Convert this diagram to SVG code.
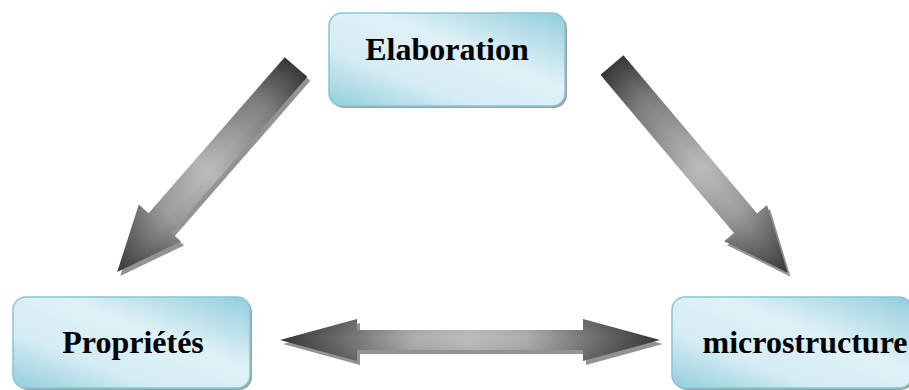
<svg xmlns="http://www.w3.org/2000/svg" width="909" height="390" viewBox="0 0 909 390">
  <defs>
    <linearGradient id="boxFill" x1="0" y1="1" x2="1" y2="0">
      <stop offset="0" stop-color="#92cddc"/>
      <stop offset="0.3" stop-color="#d4ecf3"/>
      <stop offset="0.6" stop-color="#dff1f6"/>
      <stop offset="1" stop-color="#92cddc"/>
    </linearGradient>
    <linearGradient id="arrowFill" x1="0" y1="0" x2="1" y2="0">
      <stop offset="0" stop-color="#2e2e2e"/>
      <stop offset="0.18" stop-color="#777"/>
      <stop offset="0.5" stop-color="#b8b8b8"/>
      <stop offset="0.72" stop-color="#979797"/>
      <stop offset="1" stop-color="#2a2a2a"/>
    </linearGradient>
    <linearGradient id="arrowFill2" x1="0" y1="0" x2="1" y2="0">
      <stop offset="0" stop-color="#2a2a2a"/>
      <stop offset="0.2" stop-color="#707070"/>
      <stop offset="0.35" stop-color="#a8a8a8"/>
      <stop offset="0.5" stop-color="#b8b8b8"/>
      <stop offset="0.65" stop-color="#a8a8a8"/>
      <stop offset="0.8" stop-color="#707070"/>
      <stop offset="1" stop-color="#2a2a2a"/>
    </linearGradient>
    <linearGradient id="sheen" x1="0" y1="0" x2="0" y2="1">
      <stop offset="0" stop-color="#000" stop-opacity="0.08"/>
      <stop offset="0.45" stop-color="#fff" stop-opacity="0.06"/>
      <stop offset="1" stop-color="#000" stop-opacity="0.12"/>
    </linearGradient>
    <!-- single-headed arrow, tail at x=0, tip at x=272 -->
    <path id="oneWay" d="M0,-15 L207,-15 L207,-28 L272,0 L207,28 L207,15 L0,15 Z"/>
    <!-- double-headed arrow, tips at x=0 and x=380 -->
    <path id="twoWay" d="M0,0 L77,-21 L77,-10 L303,-10 L303,-21 L380,0 L303,21 L303,10 L77,10 L77,21 Z"/>
  </defs>
  <style>
    .box { fill: url(#boxFill); stroke: #86c6d6; stroke-width: 1.5; }
    .boxShadow { fill: #a0a0a0; }
    .label { font-family: "Liberation Serif", "Times New Roman", serif; font-weight: bold; font-size: 32px; fill: #000; text-anchor: middle; }
    .shade { fill: #939393; }
    .body { fill: url(#arrowFill); }
    .body2 { fill: url(#arrowFill2); }
    .gloss { fill: url(#sheen); }
  </style>

  <g id="connectors">
    <!-- Elaboration -> Propriétés -->
    <g transform="translate(296,67) rotate(131.1)">
      <use href="#oneWay" class="shade" transform="rotate(-131.1) translate(3,4) rotate(131.1)"/>
      <use href="#oneWay" class="body"/>
      <use href="#oneWay" class="gloss"/>
    </g>
    <!-- Elaboration -> microstructure -->
    <g transform="translate(612,65) rotate(49.8)">
      <use href="#oneWay" class="shade" transform="rotate(-49.8) translate(3,4) rotate(49.8)"/>
      <use href="#oneWay" class="body"/>
      <use href="#oneWay" class="gloss"/>
    </g>
    <!-- Propriétés <-> microstructure -->
    <g transform="translate(280,340)">
      <use href="#twoWay" class="shade" transform="translate(3,4)"/>
      <use href="#twoWay" class="body2"/>
      <use href="#twoWay" class="gloss"/>
    </g>
  </g>

  <g id="node-elaboration">
    <rect class="boxShadow" x="331" y="15" width="236" height="93" rx="13"/>
    <rect class="box" x="329" y="13" width="236" height="93" rx="13"/>
    <text class="label" x="447" y="60">Elaboration</text>
  </g>

  <g id="node-proprietes">
    <rect class="boxShadow" x="15" y="299" width="237" height="91" rx="13"/>
    <rect class="box" x="13" y="297" width="237" height="91" rx="13"/>
    <text class="label" x="133" y="353">Propriétés</text>
  </g>

  <g id="node-microstructure">
    <rect class="boxShadow" x="674" y="299" width="240" height="91" rx="13"/>
    <rect class="box" x="672" y="297" width="240" height="91" rx="13"/>
    <text class="label" x="805" y="353">microstructure</text>
  </g>
</svg>
